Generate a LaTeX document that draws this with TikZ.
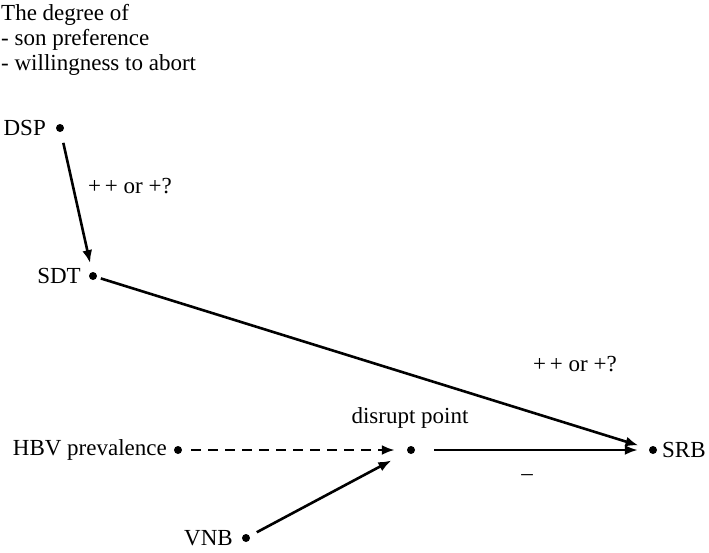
\documentclass[tikz,border=0pt]{standalone}
\usepackage{fontspec}
\setmainfont{Liberation Serif}
\usetikzlibrary{arrows.meta}
\begin{document}
\begin{tikzpicture}[x=1pt,y=-1pt,
  every node/.style={font=\fontsize{23}{27}\selectfont, inner sep=0pt},
  dot/.style={circle, fill=black, minimum size=8pt, inner sep=0pt},
  txt/.style={anchor=base west},
  conn/.style={line width=2.6pt, -{Latex[length=13pt,width=10pt]}},
  dashconn/.style={conn, dash pattern=on 10pt off 7pt}]
\useasboundingbox (0,0) rectangle (709,552);
% heading
\node[txt] (h1) at (1,20) {The degree of};
\node[txt] (h2) at (1,45) {- son preference};
\node[txt] (h3) at (1,70) {- willingness to abort};
% dots
\node[dot] (dsp) at (60,128) {};
\node[dot] (sdt) at (93,276) {};
\node[dot] (hbv) at (178,450) {};
\node[dot] (dis) at (411,450) {};
\node[dot] (srb) at (653,450) {};
\node[dot] (vnb) at (246,538) {};
% labels
\node[anchor=east] (ldsp) at (46,128) {DSP};
\node[anchor=east] (lsdt) at (81,276) {SDT};
\node[anchor=east] (lhbv) at (167,450) {HBV prevalence};
\node[anchor=east] (lvnb) at (233,538) {VNB};
\node[anchor=west] (lsrb) at (662,450) {SRB};
\node (ldis) at (410,418) {disrupt point};
\node (p1) at (130,186) {+\,+ or +?};
\node (p2) at (575,364) {+\,+ or +?};
\node (m1) at (527,478) {--};
% connectors
\draw[conn, shorten <=11pt, shorten >=9pt] (dsp) -- (sdt);
\draw[conn, shorten <=4pt, shorten >=11pt] (sdt) -- (srb);
\draw[dashconn, shorten <=9pt, shorten >=12pt] (hbv) -- (dis);
\draw[conn, shorten <=19pt, shorten >=11pt] (dis) -- (srb);
\draw[conn, shorten <=8pt, shorten >=18pt] (vnb) -- (dis);
\end{tikzpicture}
\end{document}
